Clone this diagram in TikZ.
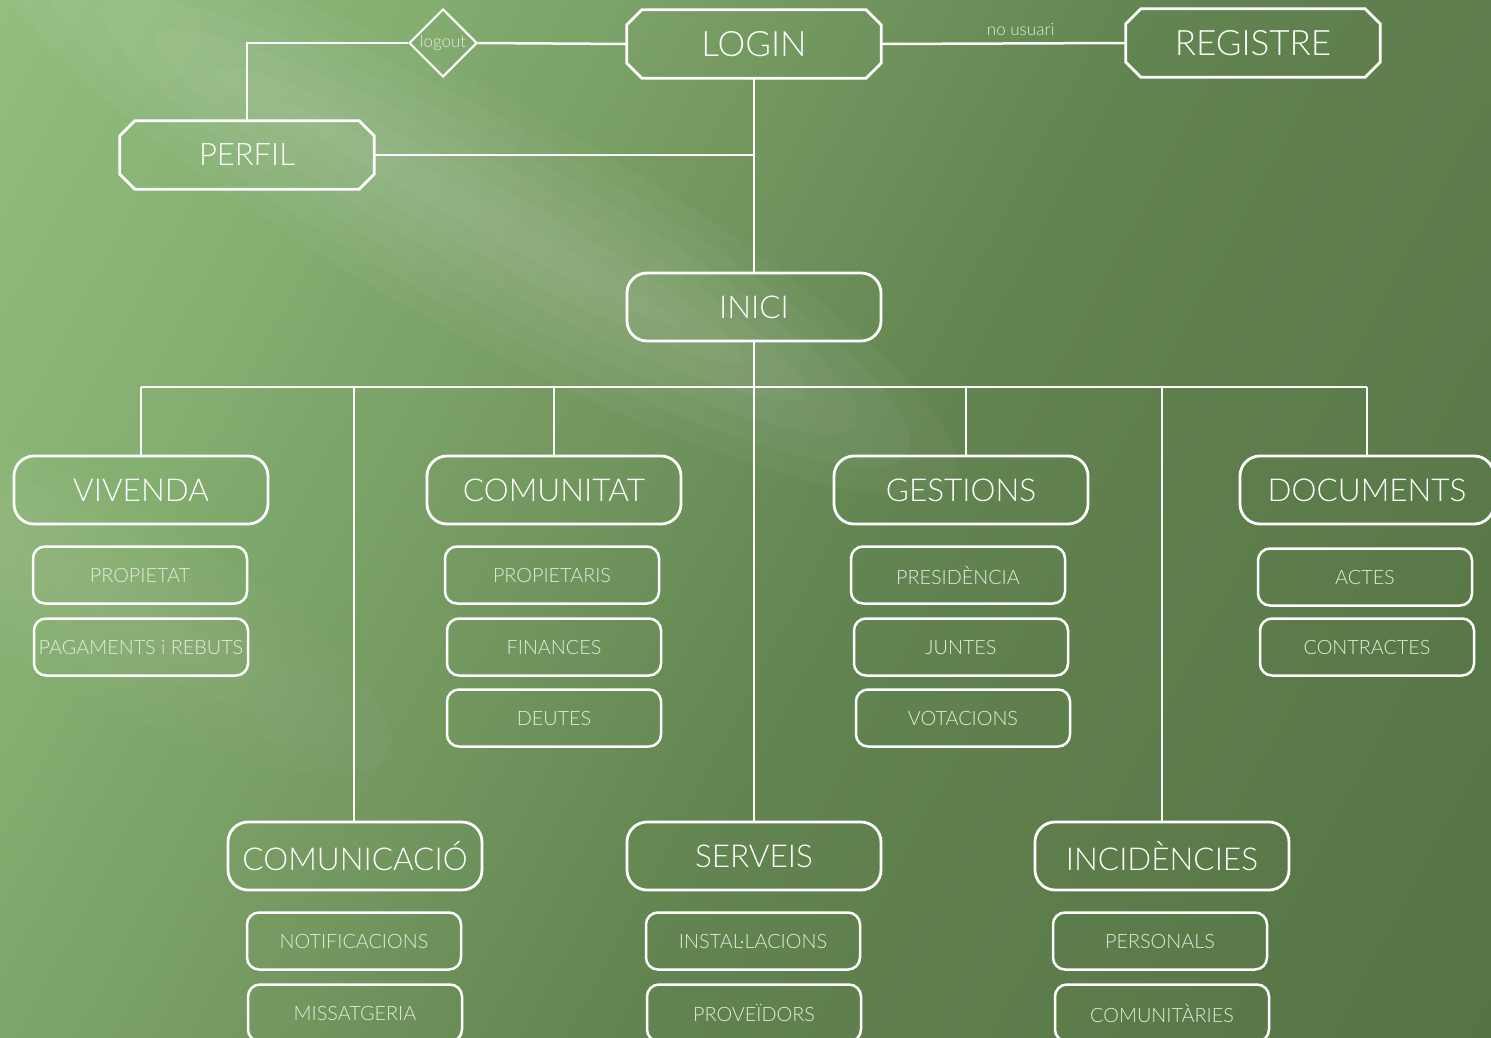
\documentclass[tikz,border=0pt]{standalone}
\usepackage{fontspec}
\setmainfont{Lato}[UprightFont={* Light}]
\usetikzlibrary{shapes.geometric,calc}
\definecolor{bgA}{RGB}{166,210,146}
\definecolor{bgB}{RGB}{132,173,112}
\definecolor{bgC}{RGB}{98,132,80}
\definecolor{bgD}{RGB}{78,106,62}
\definecolor{subtext}{RGB}{226,237,220}
\pgfdeclarehorizontalshading{bgshade}{100bp}{color(0bp)=(bgA); color(30bp)=(bgB); color(55bp)=(bgC); color(100bp)=(bgD)}
\tikzset{
  link/.style={draw=white, line width=2.5pt},
  headbox/.style={draw=white, line width=2.8pt, rounded corners=20pt, minimum width=254pt, minimum height=68pt, inner sep=0pt, text=white, font=\fontsize{31.5}{36}\selectfont},
  octbox/.style={minimum width=254pt, minimum height=68pt, inner sep=0pt, text=white, font=\fontsize{35}{40}\selectfont},
  subbox/.style={draw=white, line width=2.5pt, rounded corners=12pt, minimum width=214pt, minimum height=57pt, inner sep=0pt, text=subtext, font=\fontsize{19.8}{23}\selectfont},
  octline/.style={draw=white, line width=2.8pt},
  smalltext/.style={text=subtext, font=\fontsize{17}{20}\selectfont, inner sep=0pt}
}
\newcommand\octframe[1]{%
  \draw[octline] ([xshift=15pt]#1.north west) -- ([xshift=-15pt]#1.north east) -- ([yshift=-15pt]#1.north east)
   -- ([yshift=15pt]#1.south east) -- ([xshift=-15pt]#1.south east) -- ([xshift=15pt]#1.south west)
   -- ([yshift=15pt]#1.south west) -- ([yshift=-15pt]#1.north west) -- cycle;}
\begin{document}
\begin{tikzpicture}[x=1pt,y=-1pt]
\useasboundingbox (0,0) rectangle (1491,1038);
\shade[shading=bgshade, shading angle=-28] (0,0) rectangle (1491,1038);
% light streaks (soft, tapered)
\begin{scope}[shift={(480,215)}, rotate=-29]
  \foreach \ww/\LL in {15/230,35/300,55/370,75/430,95/490,115/540}
    \fill[white, opacity=0.03] (0,0) ellipse [x radius=\LL, y radius=\ww];
\end{scope}
\begin{scope}[shift={(90,590)}, rotate=-29]
  \foreach \ww/\LL in {20/180,45/250,70/300,95/340}
    \fill[white, opacity=0.02] (0,0) ellipse [x radius=\LL, y radius=\ww];
\end{scope}

% top row
\node[octbox] (login) at (754,44) {LOGIN};
\octframe{login}
\node[octbox] (registre) at (1253,43) {REGISTRE};
\octframe{registre}
\node[octbox, font=\fontsize{31}{36}\selectfont] (perfil) at (247,155) {PERFIL};
\octframe{perfil}
\node[diamond, draw=white, line width=2pt, minimum width=68pt, minimum height=68pt, inner sep=0pt, smalltext] (logout) at (443,43) {logout};

\node[headbox] (inici) at (754,307) {INICI};

% main sections
\node[headbox] (vivenda) at (141,490) {VIVENDA};
\node[headbox] (comunitat) at (554,490) {COMUNITAT};
\node[headbox] (gestions) at (961,490) {GESTIONS};
\node[headbox] (documents) at (1367,490) {DOCUMENTS};
\node[headbox] (comunicacio) at (355,856) {COMUNICACIÓ};
\node[headbox] (serveis) at (754,856) {SERVEIS};
\node[headbox] (incidencies) at (1162,856) {INCIDÈNCIES};

% sub boxes
\node[subbox] (propietat) at (140,575) {PROPIETAT};
\node[subbox] (pagaments) at (141,647) {PAGAMENTS i REBUTS};
\node[subbox] (propietaris) at (552,575) {PROPIETARIS};
\node[subbox] (finances) at (554,647) {FINANCES};
\node[subbox] (deutes) at (554,718) {DEUTES};
\node[subbox] (presidencia) at (958,575) {PRESIDÈNCIA};
\node[subbox] (juntes) at (961,647) {JUNTES};
\node[subbox] (votacions) at (963,718) {VOTACIONS};
\node[subbox] (actes) at (1365,577) {ACTES};
\node[subbox] (contractes) at (1367,647) {CONTRACTES};
\node[subbox] (notificacions) at (354,941) {NOTIFICACIONS};
\node[subbox] (missatgeria) at (355,1013) {MISSATGERIA};
\node[subbox] (installacions) at (753,941) {INSTAL·LACIONS};
\node[subbox] (proveidors) at (754,1013) {PROVEÏDORS};
\node[subbox] (personals) at (1160,941) {PERSONALS};
\node[subbox] (comunitaries) at (1162,1013) {COMUNITÀRIES};

% connectors, top
\draw[link] (login.west) -- (logout.east);
\draw[link] (logout.west) -| (perfil.north);
\draw[link] (login.east) -- node[pos=0.57, above=7pt, smalltext] {no usuari} (registre.west);
\draw[link] (login.south) -- (inici.north);
\draw[link] (perfil.east) -- (perfil.east -| login.south);

% tree
\coordinate (bar) at (754,387);
\draw[link] (inici.south) -- (serveis.north);
\draw[link] (vivenda.north |- bar) -- (documents.north |- bar);
\foreach \n in {vivenda,comunitat,documents}
  \draw[link] (\n.north) -- (\n.north |- bar);
\draw[link] (gestions.north -| 966,0) -- (bar -| 966,0);
\draw[link] (comunicacio.north -| 354,0) -- (bar -| 354,0);
\draw[link] (incidencies.north) -- (incidencies.north |- bar);
\end{tikzpicture}
\end{document}
